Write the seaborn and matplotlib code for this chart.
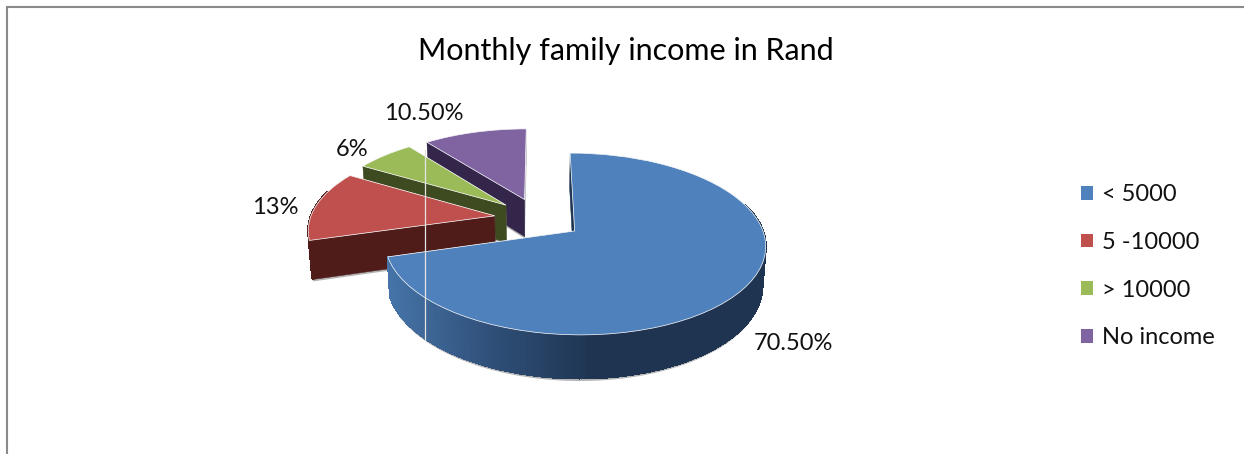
import numpy as np
import matplotlib
matplotlib.use("Agg")
import matplotlib.pyplot as plt
from matplotlib.patches import Patch, Polygon
from matplotlib.transforms import Transform
import seaborn as sns

# Survey figures
categories = ["< 5000", "5 -10000", "> 10000", "No income"]
shares = [70.5, 13, 6, 10.5]
share_labels = ["70.50%", "13%", "6%", "10.50%"]
title = "Monthly family income in Rand"

top_colors = ["#4F81BD", "#C0504D", "#9BBB59", "#8064A2"]
side_colors = ["#1E3450", "#4F1C1A", "#3E4A20", "#33264A"]
blue_ramp = ["#4674A8", "#2F4F78", "#1E3450", "#1E3450"]

# Tilted-disc camera, in canvas pixels
CX, CY, RX, RY = 538.5, 218.4, 184.5, 85.5
RECEDE, DEPTH, SHRINK = 0.14, 38.0, 0.015
EXPLODE = 0.24


def project(x, y, z=0.0):
    w = 1 + RECEDE * y
    s = 1 - SHRINK * z
    return CX + s * RX * x / w, CY - s * RY * y / w + DEPTH * z / w


class DiscPlane(Transform):
    """Carries the flat pie plane onto the tilted disc."""
    input_dims = output_dims = 2
    is_affine = False

    def transform_non_affine(self, values):
        values = np.asarray(values, dtype=float)
        return np.column_stack(project(values[:, 0], values[:, 1]))


sns.set_theme(style="white")
plt.rcParams["font.family"] = ["Lato", "DejaVu Sans"]

fig = plt.figure(figsize=(12.44, 4.54), dpi=100)
ax = fig.add_axes([0, 0, 1, 1])
wedges, _ = ax.pie(
    shares,
    explode=[EXPLODE] * len(shares),
    colors=top_colors,
    startangle=90,
    counterclock=False,
    wedgeprops={"edgecolor": "white", "linewidth": 0.5},
)
ax.set_aspect("auto")
ax.set_xlim(0, 1244)
ax.set_ylim(454, 0)
ax.set_axis_off()

ramp = sns.blend_palette(blue_ramp, 256)


def quad(x0, y0, x1, y1, z_low=1.0):
    return np.array(
        [project(x0, y0), project(x1, y1), project(x1, y1, z_low), project(x0, y0, z_low)]
    )


# Slices are painted back to front so nearer walls cover farther ones
for rank, i in enumerate(reversed(range(len(shares)))):
    wedge = wedges[i]
    ox, oy = wedge.center
    base = 2 + 2 * rank
    steps = 500 if i == 0 else 60
    angles = np.radians(np.linspace(wedge.theta1, wedge.theta2, steps))
    rx, ry = ox + np.cos(angles), oy + np.sin(angles)

    # Soft grey edge behind both cut faces; only the forward-facing cut is solid
    for k in (0, -1):
        ax.add_patch(Polygon(quad(ox, oy, rx[k], ry[k], 1.05), fc="#b4b4b4", ec="none", zorder=base))
    ax.add_patch(Polygon(quad(ox, oy, rx[-1], ry[-1]), fc=side_colors[i], ec=side_colors[i],
                         lw=0.3, zorder=base + 0.2))

    # Outer wall, with a soft grey rim below it
    shadow = np.vstack([[project(a, b, 1.06) for a, b in zip(rx, ry)],
                        [project(a, b) for a, b in zip(rx[::-1], ry[::-1])]])
    ax.add_patch(Polygon(shadow, fc="#b4b4b4", ec="none", zorder=base))

    for j in range(len(angles) - 1):
        # The far part of the wall sits behind the slice's own top
        if np.sin(angles[j]) > 0.3:
            continue
        if i == 0:
            left = project(rx[j], ry[j])[0]
            f = np.clip((left - 388) / (700 - 388), 0, 1)
            shade = ramp[int(f * (len(ramp) - 1))]
        else:
            shade = side_colors[i]
        ax.add_patch(Polygon(quad(rx[j], ry[j], rx[j + 1], ry[j + 1]), fc=shade, ec=shade,
                             lw=0.9, antialiased=False, zorder=base + 0.4))

    wedge.set_transform(DiscPlane() + ax.transData)
    wedge.set_zorder(base + 1)
    wedge.set_clip_on(False)

# Hairline across the slices
ax.plot([425, 425], [150, 340], color="#e4e4e4", lw=0.9, zorder=30)

# Chart frame, open at the right and the bottom
ax.plot([7, 7, 1244], [454, 7, 7], color="#8a8a8a", lw=1.5, solid_joinstyle="miter",
        solid_capstyle="butt", zorder=31, clip_on=False)

ax.text(625.5, 60, title, ha="center", va="baseline", fontsize=22, color="black", zorder=32)

for label, (px, py) in zip(share_labels, [(793, 343), (275, 207), (352, 149), (424, 114)]):
    ax.text(px, py, label, ha="center", va="center", fontsize=17, color="#111111", zorder=32)

handles = [Patch(facecolor=c, edgecolor="none", label=n) for c, n in zip(top_colors, categories)]
ax.legend(
    handles=handles,
    loc="upper left",
    bbox_to_anchor=(1060, 163),
    bbox_transform=ax.transData,
    frameon=False,
    fontsize=17,
    labelspacing=1.13,
    handlelength=0.51,
    handleheight=0.51,
    handletextpad=0.38,
    labelcolor="#111111",
)

fig.savefig("out.png", dpi=100)
